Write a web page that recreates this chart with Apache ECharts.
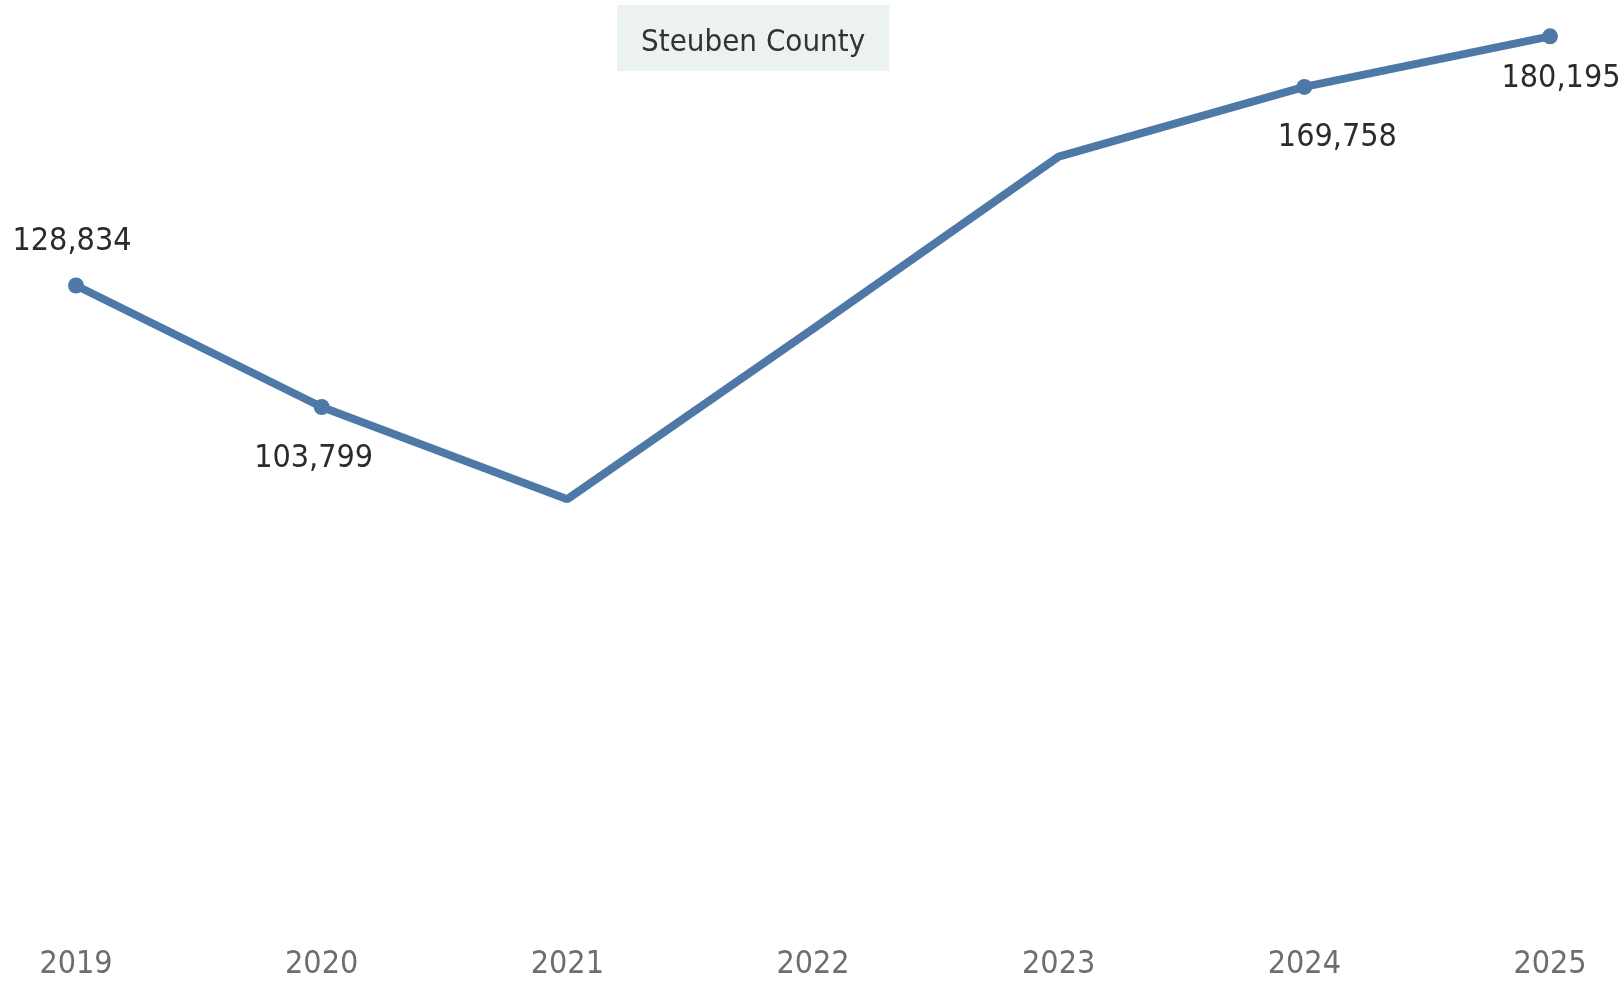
<!DOCTYPE html>
<html>
<head>
<meta charset="utf-8">
<script src="https://cdn.jsdelivr.net/npm/echarts@6/dist/echarts.min.js"></script>
<style>
html,body{margin:0;padding:0;background:#fff;}
#chart{width:1624px;height:982px;}
</style>
</head>
<body>
<div id="chart"></div>
<script>
const titleText = 'Steuben County';
const years = ['2019', '2020', '2021', '2022', '2023', '2024', '2025'];
const values = [128834, 103799, 84800, 119900, 155400, 169758, 180195];
const labeledYears = ['2019', '2020', '2024', '2025'];

const FONT = '"DejaVu Sans Condensed", "Liberation Sans", sans-serif';

// label placement per labelled point (style only)
const labelStyle = {
  '2019': { position: 'top', distance: 20, offset: [-4, 0] },
  '2020': { position: 'bottom', distance: 28, offset: [-8, 0] },
  '2024': { position: 'bottom', distance: 27, offset: [33, 0] },
  '2025': { position: 'bottom', distance: 18, offset: [11, 0] }
};

const seriesData = values.map((v, i) => {
  const y = years[i];
  const show = labeledYears.includes(y);
  const item = { value: v, symbolSize: show ? 16 : 0 };
  if (show) {
    item.label = Object.assign({ show: true }, labelStyle[y]);
  } else {
    item.label = { show: false };
  }
  return item;
});

const chart = echarts.init(document.getElementById('chart'), null, { renderer: 'canvas' });
chart.setOption({
  backgroundColor: '#ffffff',
  animation: false,
  title: {
    text: titleText,
    left: 617,
    top: 5,
    padding: [22, 24, 13, 24],
    backgroundColor: '#ebf2f1',
    textStyle: { fontFamily: FONT, fontSize: 31, fontWeight: 'normal', color: '#333333' }
  },
  grid: { left: 76, right: 74, top: 13, bottom: 71.4, containLabel: false },
  xAxis: {
    type: 'category',
    data: years,
    boundaryGap: false,
    axisLine: { show: false },
    axisTick: { show: false },
    axisLabel: { fontFamily: FONT, fontSize: 32, color: '#6e6e6e', margin: 38 }
  },
  yAxis: {
    type: 'value',
    min: 0,
    max: 185000,
    show: false,
    splitLine: { show: false }
  },
  series: [{
    type: 'line',
    data: seriesData,
    symbol: 'circle',
    showSymbol: true,
    lineStyle: { color: '#4e79a7', width: 8 },
    itemStyle: { color: '#4e79a7' },
    label: {
      fontFamily: FONT,
      fontSize: 32,
      color: '#2b2b2b',
      formatter: p => p.value.toLocaleString('en-US')
    }
  }]
});
</script>
</body>
</html>
